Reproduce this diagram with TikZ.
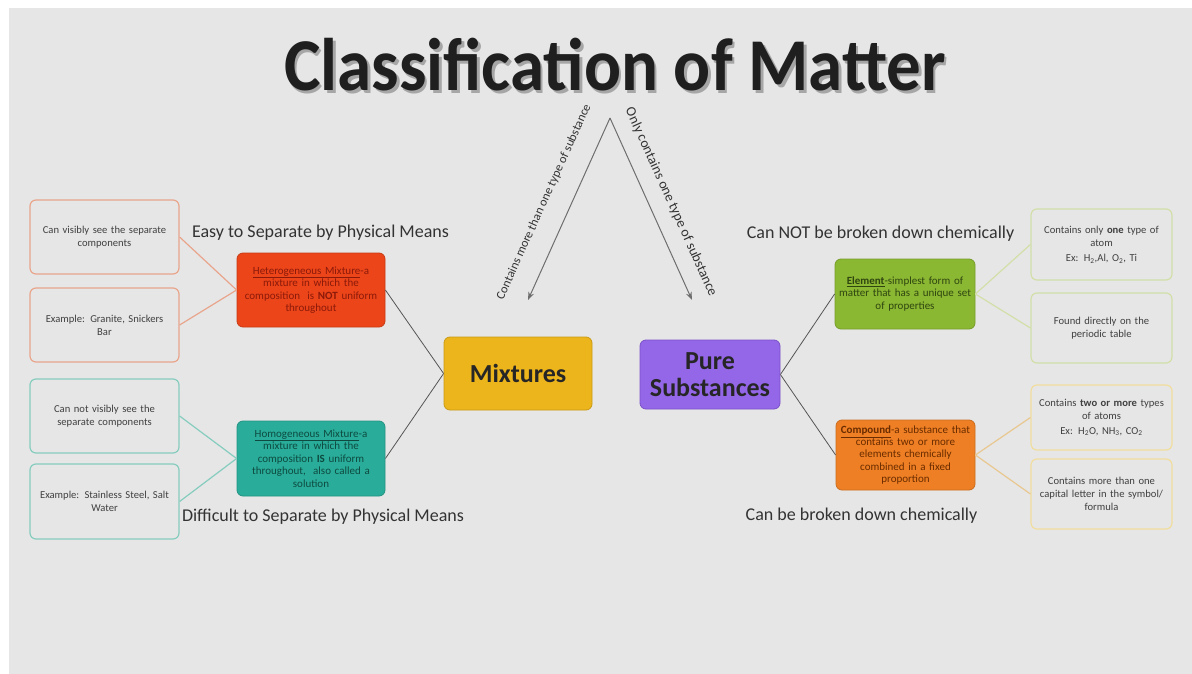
\documentclass[tikz,border=0pt]{standalone}
\usepackage{fontspec}
\setmainfont{Carlito}
\usetikzlibrary{arrows.meta}
\definecolor{bg}{HTML}{E6E6E6}
\definecolor{mixfill}{HTML}{EDB51C}
\definecolor{mixdraw}{HTML}{C99A16}
\definecolor{purefill}{HTML}{9466E8}
\definecolor{puredraw}{HTML}{7A50C8}
\definecolor{hetfill}{HTML}{EC4519}
\definecolor{hettext}{HTML}{8B1A0A}
\definecolor{homfill}{HTML}{29AD9A}
\definecolor{homtext}{HTML}{0E4A40}
\definecolor{elemfill}{HTML}{8BB832}
\definecolor{elemtext}{HTML}{2F4510}
\definecolor{compfill}{HTML}{EE7F24}
\definecolor{comptext}{HTML}{6A2C00}
\definecolor{salmon}{HTML}{E9A58C}
\definecolor{tealL}{HTML}{86CDBF}
\definecolor{greenL}{HTML}{D2DFA8}
\definecolor{yellowL}{HTML}{F1DE9E}
\definecolor{tanL}{HTML}{E8C890}
\definecolor{leaftext}{HTML}{404040}
\definecolor{conn}{HTML}{555555}
\definecolor{arrowc}{HTML}{6E6E6E}
\definecolor{labtext}{HTML}{333333}
\tikzset{
  titletext/.style={font=\fontsize{69}{72}\selectfont\bfseries, yscale=1.08, inner sep=0pt},
  mainbox/.style={draw, line width=0.8pt, rounded corners=6pt, align=center, inner sep=0pt, font=\fontsize{26}{27}\selectfont\bfseries, text=black!85},
  subbox/.style={draw, line width=0.8pt, rounded corners=6pt, align=center, inner sep=0pt, text width=136pt, font=\fontsize{11}{12.5}\selectfont},
  leafbox/.style={draw, line width=1.2pt, rounded corners=6pt, align=center, inner sep=0pt, text width=140pt, minimum width=149pt, minimum height=74pt, fill=bg, text=leaftext, font=\fontsize{10.6}{13}\selectfont},
  rleafbox/.style={leafbox, minimum width=141pt, text width=136pt},
  sidelabel/.style={text=labtext, font=\fontsize{18}{20}\selectfont, inner sep=0pt},
  arrowlabel/.style={text=labtext, inner sep=0pt},
  mainconn/.style={draw=conn, line width=0.8pt},
  leafconn/.style={line width=1.2pt},
  brancharrow/.style={draw=arrowc, line width=1pt, -{Stealth[length=8pt,width=6pt]}}
}
\begin{document}
\begin{tikzpicture}[x=1pt,y=-1pt]
\useasboundingbox (0,0) rectangle (1192,674);
\fill[white] (0,0) rectangle (1192,674);
\fill[bg] (9,8) rectangle (1192,674);

% title
\node[titletext, text=black!35] (titleshadow) at (617.5,67.5) {Classification of Matter};
\node[titletext, text=black!88] (title) at (615,65) {Classification of Matter};

% main boxes
\node[mainbox, fill=mixfill, draw=mixdraw, minimum width=148pt, minimum height=73pt] (mix) at (518,373.5) {Mixtures};
\node[mainbox, fill=purefill, draw=puredraw, minimum width=140pt, minimum height=69pt] (pure) at (710,374.5) {Pure\\Substances};

% sub boxes
\node[subbox, fill=hetfill, draw=hetfill!85!black, text=hettext, minimum width=148pt, minimum height=74pt] (het) at (311,290)
 {\underline{Heterogeneous Mixture}-a\\mixture in which the\\composition\ \ is \textbf{NOT} uniform\\throughout};
\node[subbox, fill=homfill, draw=homfill!85!black, text=homtext, minimum width=148pt, minimum height=75pt] (hom) at (311,458.5)
 {\underline{Homogeneous Mixture}-a\\mixture in which the\\composition \textbf{IS} uniform\\throughout,\ \ also called a\\solution};
\node[subbox, fill=elemfill, draw=elemfill!85!black, text=elemtext, minimum width=140pt, minimum height=70pt] (elem) at (905,294)
 {\underline{\textbf{Element}}-simplest form of\\matter that has a unique\ set\\of properties};
\node[subbox, fill=compfill, draw=compfill!85!black, text=comptext, minimum width=139pt, minimum height=70pt, font=\fontsize{11}{12.2}\selectfont] (comp) at (905.5,455)
 {\underline{\textbf{Compound}}-a substance that\\contains two or more\\elements chemically\\combined in a fixed\\proportion};

% leaf boxes
\node[leafbox, draw=salmon] (l1) at (104.5,237) {Can visibly see the separate\\components};
\node[leafbox, draw=salmon] (l2) at (104.5,325) {Example: Granite, Snickers\\Bar};
\node[leafbox, draw=tealL] (l3) at (104.5,416) {Can not visibly see the\\separate components};
\node[leafbox, draw=tealL, minimum height=75pt] (l4) at (104.5,501.5) {Example: Stainless Steel, Salt\\Water};
\node[rleafbox, draw=greenL, minimum height=71pt] (r1) at (1101.5,244.5) {Contains only \textbf{one} type of\\atom\\[2pt]Ex: H\textsubscript{2},Al, O\textsubscript{2}, Ti};
\node[rleafbox, draw=greenL, minimum height=70pt] (r2) at (1101.5,328) {Found directly on the\\periodic table};
\node[rleafbox, draw=yellowL, minimum height=65pt] (r3) at (1101.5,417.5) {Contains \textbf{two or more} types\\of atoms\\[2pt]Ex: H\textsubscript{2}O, NH\textsubscript{3}, CO\textsubscript{2}};
\node[rleafbox, draw=yellowL, minimum height=70pt] (r4) at (1101.5,494) {Contains more than one\\capital letter in the symbol/\\formula};

% side labels
\node[sidelabel] (easy) at (320.5,233) {Easy to Separate by Physical Means};
\node[sidelabel] (diff) at (323,517) {Difficult to Separate by Physical Means};
\node[sidelabel] (cannot) at (880.5,234) {Can NOT be broken down chemically};
\node[sidelabel] (can) at (861.5,516) {Can be broken down chemically};

% connectors
\path[mainconn] (het.east) -- (mix.west);
\path[mainconn] (hom.east) -- (mix.west);
\path[mainconn] (pure.east) -- (elem.west);
\path[mainconn] (pure.east) -- (comp.west);
\draw[leafconn, salmon] (het.west) -- (l1.east);
\draw[leafconn, salmon] (het.west) -- (l2.east);
\draw[leafconn, tealL] (hom.west) -- (l3.east);
\draw[leafconn, tealL] (hom.west) -- (l4.east);
\draw[leafconn, greenL] (elem.east) -- (r1.west);
\draw[leafconn, greenL] (elem.east) -- (r2.west);
\draw[leafconn, tanL] (comp.east) -- (r3.west);
\draw[leafconn, tanL] (comp.east) -- (r4.west);

% branch arrows
\coordinate (apex) at (610,118);
\coordinate (leftend) at (528,300);
\coordinate (rightend) at (692,300);
\path[brancharrow] (apex) -- (leftend);
\path[brancharrow] (apex) -- (rightend);
\node[arrowlabel, rotate=65.7, font=\fontsize{12.4}{14}\selectfont] (leftlab) at (544,202) {Contains more than one type of substance};
\node[arrowlabel, rotate=-65.7, font=\fontsize{14}{16}\selectfont] (rightlab) at (671,202) {Only contains one type of substance};
\end{tikzpicture}
\end{document}
